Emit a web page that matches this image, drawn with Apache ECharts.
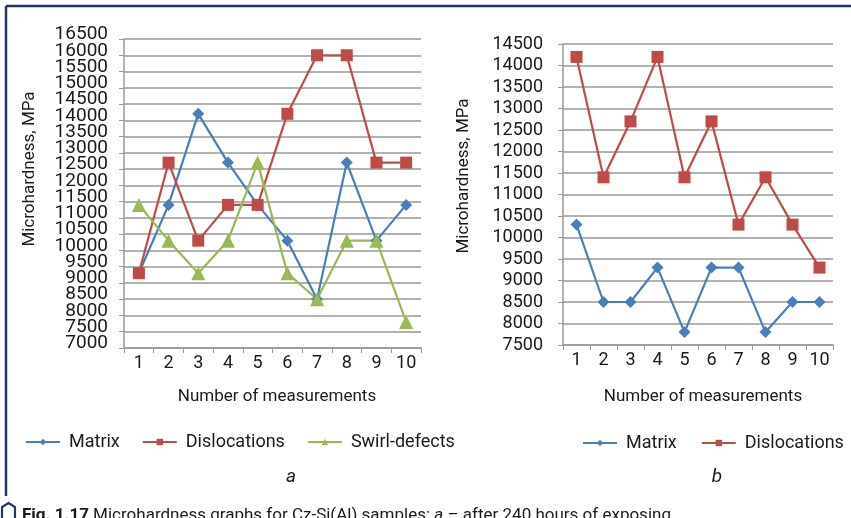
<!DOCTYPE html>
<html>
<head>
<meta charset="utf-8">
<script src="https://cdn.jsdelivr.net/npm/echarts@6/dist/echarts.min.js"></script>
<style>
  html, body { margin: 0; padding: 0; background: #fff; }
  #chart { width: 851px; height: 518px; }
</style>
</head>
<body>
<div id="chart"></div>
<script>
// Measurement numbers along the x axis
const categories = ['1', '2', '3', '4', '5', '6', '7', '8', '9', '10'];

// Panel a: microhardness, MPa
const aMatrix       = [9300, 11400, 14200, 12700, 11400, 10300, 8500, 12700, 10300, 11400];
const aDislocations = [9300, 12700, 10300, 11400, 11400, 14200, 16000, 16000, 12700, 12700];
const aSwirl        = [11400, 10300, 9300, 10300, 12700, 9300, 8500, 10300, 10300, 7800];

// Panel b: microhardness, MPa
const bMatrix       = [10300, 8500, 8500, 9300, 7800, 9300, 9300, 7800, 8500, 8500];
const bDislocations = [14200, 11400, 12700, 14200, 11400, 12700, 10300, 11400, 10300, 9300];

// Y tick labels
const aTicks = [7000, 7500, 8000, 8500, 9000, 9500, 10000, 10500, 11000, 11500,
                12000, 12500, 13000, 13500, 14000, 14500, 15000, 15500, 16000, 16500];
const bTicks = [7500, 8000, 8500, 9000, 9500, 10000, 10500, 11000, 11500,
                12000, 12500, 13000, 13500, 14000, 14500];
const STEP = 500;

const FONT = 'Roboto';
const TXT = '#1a1a1a';
const BLUE = '#4a7ebb', RED = '#be4b48', GREEN = '#98b954';
const GRIDC = '#999999';
const NAVY = '#1f3864';

const chart = echarts.init(document.getElementById('chart'), null, { renderer: 'canvas' });

function xAxisFor(gridIndex) {
  return {
    type: 'category', gridIndex, data: categories, boundaryGap: true,
    axisLine: { lineStyle: { color: GRIDC, width: 1.5 } },
    axisTick: { show: true, length: 5, inside: false, lineStyle: { color: GRIDC } },
    axisLabel: { fontFamily: FONT, fontSize: 18, color: TXT, margin: 6, interval: 0 },
    splitLine: { show: false }
  };
}
// Value axis; 'labels' is the subset of ticks this axis prints
function yAxisFor(gridIndex, ticks, labels, fontSize, margin, vAlign, lh, decor) {
  return {
    type: 'value', gridIndex, position: 'left', offset: 0,
    min: ticks[0], max: ticks[ticks.length - 1], interval: STEP,
    axisLine: { show: decor, onZero: false, lineStyle: { color: GRIDC, width: 1.5 } },
    axisTick: { show: decor, length: 5, lineStyle: { color: GRIDC } },
    axisLabel: {
      customValues: labels, showMinLabel: true, showMaxLabel: true,
      fontFamily: FONT, fontSize, color: TXT, margin, lineHeight: lh,
      verticalAlign: vAlign, hideOverlap: false,
      formatter: v => String(v)
    },
    splitLine: { show: decor, lineStyle: { color: GRIDC, width: 1.5 } }
  };
}
function lineSeries(name, data, color, symbol, size, xi) {
  return {
    type: 'line', name, data, xAxisIndex: xi, yAxisIndex: xi,
    symbol, symbolSize: size, showAllSymbol: true,
    lineStyle: { color, width: 2.2 },
    itemStyle: { color, borderWidth: 0 },
    emphasis: { disabled: true },
    animation: false
  };
}

// Panel a's labels sit closer than their own height, so they are split
// between two stacked axes of the same range (whole and half thousands)
const aWhole = aTicks.filter((v, i) => i % 2 === 0);
const aHalf  = aTicks.filter((v, i) => i % 2 === 1);

const legendText = { fontFamily: FONT, fontSize: 18, color: TXT, padding: [0, 0, 0, 4] };

chart.setOption({
  animation: false,
  grid: [
    { left: 124, right: 430, top: 39, bottom: 170 },
    { left: 563, right: 18, top: 44, bottom: 173 }
  ],
  xAxis: [xAxisFor(0), xAxisFor(1)],
  yAxis: [
    yAxisFor(0, aTicks, aWhole, 19, 16, 'bottom', 9, true),
    yAxisFor(1, bTicks, bTicks, 18, 20, 'middle', 14, true),
    yAxisFor(0, aTicks, aHalf, 19, 16, 'bottom', 9, false)
  ],
  legend: [
    { left: 20, top: 428, itemWidth: 34, itemHeight: 8, itemGap: 22,
      data: ['Matrix', 'Dislocations', 'Swirl-defects'], textStyle: legendText,
      selectedMode: false },
    { left: 577, top: 429, itemWidth: 34, itemHeight: 8, itemGap: 24,
      data: ['Matrix', 'Dislocations'], textStyle: legendText, selectedMode: false }
  ],
  series: [
    lineSeries('Matrix', aMatrix, BLUE, 'diamond', 12, 0),
    lineSeries('Dislocations', aDislocations, RED, 'rect', 12, 0),
    lineSeries('Swirl-defects', aSwirl, GREEN, 'triangle', 14, 0),
    lineSeries('Matrix', bMatrix, BLUE, 'diamond', 12, 1),
    lineSeries('Dislocations', bDislocations, RED, 'rect', 12, 1)
  ],
  graphic: [
    // frame
    { type: 'line', shape: { x1: 6, y1: 6, x2: 851, y2: 6 }, style: { stroke: NAVY, lineWidth: 2.5 } },
    { type: 'line', shape: { x1: 6, y1: 6, x2: 6, y2: 496 }, style: { stroke: NAVY, lineWidth: 2.5 } },
    // axis titles
    { type: 'text', x: 30, y: 169, rotation: Math.PI / 2,
      style: { text: 'Microhardness, MPa', fontFamily: FONT, fontSize: 17, fill: TXT, align: 'center', verticalAlign: 'middle' } },
    { type: 'text', x: 464, y: 176, rotation: Math.PI / 2,
      style: { text: 'Microhardness, MPa', fontFamily: FONT, fontSize: 17, fill: TXT, align: 'center', verticalAlign: 'middle' } },
    { type: 'text', x: 277, y: 397,
      style: { text: 'Number of measurements', fontFamily: FONT, fontSize: 17, fill: TXT, align: 'center', verticalAlign: 'middle' } },
    { type: 'text', x: 703, y: 397,
      style: { text: 'Number of measurements', fontFamily: FONT, fontSize: 17, fill: TXT, align: 'center', verticalAlign: 'middle' } },
    // panel letters
    { type: 'text', x: 291, y: 477,
      style: { text: 'a', fontFamily: FONT, fontSize: 19, fontStyle: 'italic', fill: TXT, align: 'center', verticalAlign: 'middle' } },
    { type: 'text', x: 717, y: 477,
      style: { text: 'b', fontFamily: FONT, fontSize: 19, fontStyle: 'italic', fill: TXT, align: 'center', verticalAlign: 'middle' } },
    // caption marker
    { type: 'polygon', shape: { points: [[8.5, 503], [15, 507], [15, 521], [2, 521], [2, 507]] },
      style: { fill: 'none', stroke: NAVY, lineWidth: 2.2 } },
    // caption
    { type: 'text', x: 22, y: 524,
      style: {
        text: '{b|Fig. 1.17} Microhardness graphs for Cz-Si(Al) samples: {i|a} – after 240 hours of exposing',
        fontFamily: FONT, fontSize: 17, fill: TXT, verticalAlign: 'bottom',
        rich: {
          b: { fontFamily: FONT, fontSize: 17, fontWeight: 'bold', fill: TXT },
          i: { fontFamily: FONT, fontSize: 17, fontStyle: 'italic', fill: TXT }
        }
      } }
  ]
});
</script>
</body>
</html>
